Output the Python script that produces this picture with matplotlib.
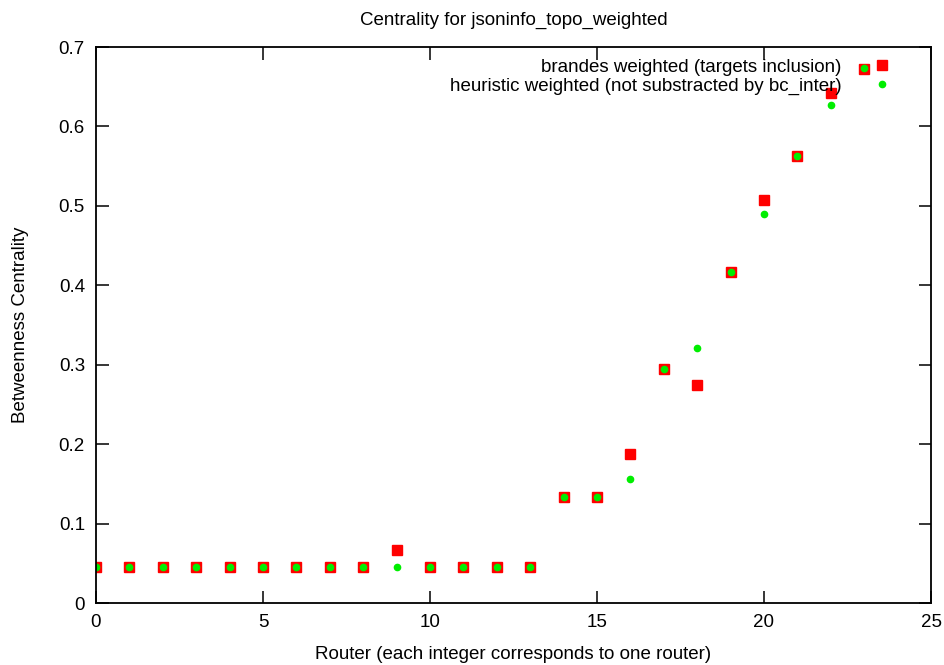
import matplotlib
matplotlib.use("Agg")
import matplotlib.pyplot as plt

# ── Data ─────────────────────────────────────────────────────────────────────
routers = list(range(24))
brandes = [0.045, 0.045, 0.045, 0.045, 0.045, 0.045, 0.045, 0.045, 0.045, 0.067,
           0.045, 0.045, 0.045, 0.045, 0.133, 0.133, 0.188, 0.295, 0.274, 0.417,
           0.507, 0.563, 0.642, 0.672]
heuristic = [0.045, 0.045, 0.045, 0.045, 0.045, 0.045, 0.045, 0.045, 0.045, 0.045,
             0.045, 0.045, 0.045, 0.045, 0.133, 0.133, 0.156, 0.295, 0.321, 0.417,
             0.490, 0.563, 0.627, 0.673]
x_ticks = [0, 5, 10, 15, 20, 25]
y_ticks = [0, 0.1, 0.2, 0.3, 0.4, 0.5, 0.6, 0.7]
y_ticklabels = ["0", "0.1", "0.2", "0.3", "0.4", "0.5", "0.6", "0.7"]

plt.rcParams.update({
    "font.family": ["Liberation Sans", "DejaVu Sans"],
    "font.size": 13.5,
    "axes.linewidth": 1.3,
})

fig = plt.figure(figsize=(9.45, 6.65), dpi=100)
ax = fig.add_axes([96 / 945, 1 - 603 / 665, (931 - 96) / 945, (603 - 47) / 665])

ax.plot(routers, brandes, linestyle="none", marker="s", markersize=7.2,
        color="#ff0000", label="brandes weighted (targets inclusion)")
ax.plot(routers, heuristic, linestyle="none", marker="o", markersize=4.5,
        color="#00ee00", label="heuristic weighted (not substracted by bc_inter)")

ax.set_xlim(0, 25)
ax.set_ylim(0, 0.7)
ax.set_xticks(x_ticks)
ax.set_xticklabels([str(t) for t in x_ticks])
ax.set_yticks(y_ticks)
ax.set_yticklabels(y_ticklabels)
ax.tick_params(direction="in", length=9, width=1.1, top=True, right=True, pad=8)

ax.set_title("Centrality for jsoninfo_topo_weighted", fontsize=13.5, pad=16)
ax.set_xlabel("Router (each integer corresponds to one router)", labelpad=11)
ax.set_ylabel("Betweenness Centrality", labelpad=21)

ax.legend(loc="upper right", markerfirst=False, frameon=False, fontsize=13.5,
          handlelength=1.0, handletextpad=1.7, labelspacing=0.1,
          borderaxespad=0.0, bbox_to_anchor=(0.962, 0.993))

fig.savefig("out.png", dpi=100)
